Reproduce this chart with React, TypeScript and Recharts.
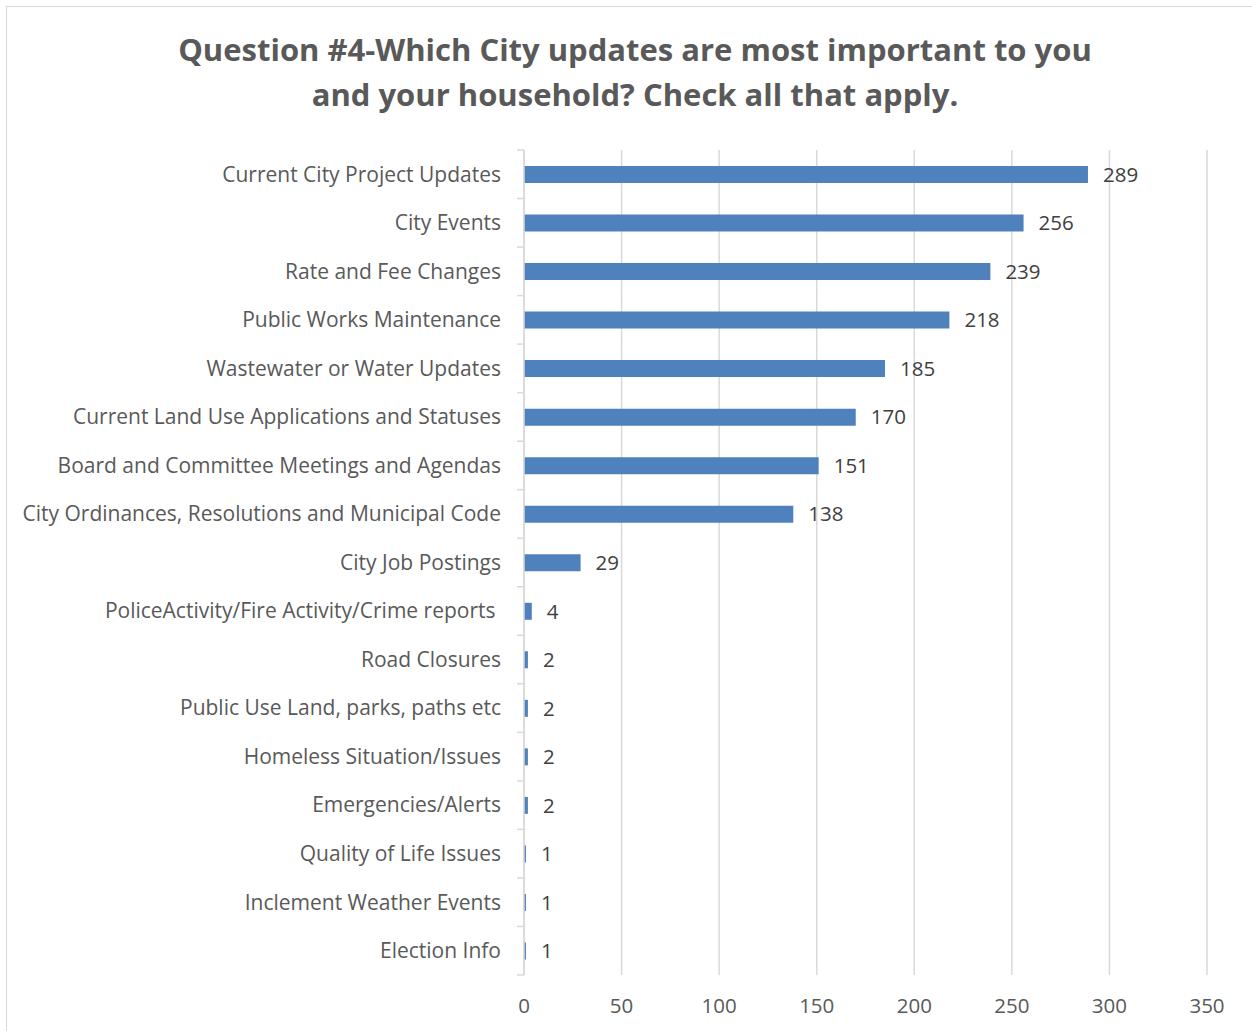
import { BarChart, Bar, XAxis, YAxis, CartesianGrid, LabelList } from 'recharts'

const categories = [
  'Current City Project Updates',
  'City Events',
  'Rate and Fee Changes',
  'Public Works Maintenance',
  'Wastewater or Water Updates',
  'Current Land Use Applications and Statuses',
  'Board and Committee Meetings and Agendas',
  'City Ordinances, Resolutions and Municipal Code',
  'City Job Postings',
  'PoliceActivity/Fire Activity/Crime reports\u00A0',
  'Road Closures',
  'Public Use Land, parks, paths etc',
  'Homeless Situation/Issues',
  'Emergencies/Alerts',
  'Quality of Life Issues',
  'Inclement Weather Events',
  'Election Info',
]

const responses = [289, 256, 239, 218, 185, 170, 151, 138, 29, 4, 2, 2, 2, 2, 1, 1, 1]

const xTicks = [0, 50, 100, 150, 200, 250, 300, 350]

const title1 = 'Question #4-Which City updates are most important to you'
const title2 = 'and your household? Check all that apply.'

const data = categories.map((name, i) => ({ name, value: responses[i] }))

const FONT = '"Open Sans", "Noto Sans", sans-serif'

const W = 1252
const H = 1031
const TOP = 150
const XAXIS_H = 56
const HALF_BAND = (H - TOP - XAXIS_H) / categories.length / 2

// category tick: label at band centre, tick mark on the band boundary like Excel
const CategoryTick = ({ x, y, payload, index }: any) => {
  return (
    <g>
      <line x1={x - 5} x2={x + 2} y1={y - HALF_BAND} y2={y - HALF_BAND} stroke="#d9d9d9" strokeWidth={1.5} />
      {index === categories.length - 1 && (
        <line x1={x - 5} x2={x + 2} y1={y + HALF_BAND} y2={y + HALF_BAND} stroke="#d9d9d9" strokeWidth={1.5} />
      )}
      <text x={x - 21} y={y} dy="0.35em" textAnchor="end" fontSize={21} fill="#595959" fontFamily={FONT}>
        {payload.value}
      </text>
    </g>
  )
}

export default function App() {
  return (
    <div style={{ position: 'absolute', left: 0, top: 0, width: W, height: H, background: '#fff', overflow: 'hidden', fontFamily: FONT }}>
      <div
        style={{
          position: 'absolute',
          left: 6,
          top: 6,
          width: 1300,
          height: 1100,
          border: '1.5px solid #d9d9d9',
          boxSizing: 'border-box',
        }}
      />
      <div
        style={{
          position: 'absolute',
          left: 0,
          top: 27,
          width: 1270,
          textAlign: 'center',
          fontSize: 31,
          fontWeight: 700,
          color: '#595959',
          lineHeight: '45px',
        }}
      >
        <div>{title1}</div>
        <div>{title2}</div>
      </div>
      <div style={{ position: 'absolute', left: 0, top: 0 }}>
        <BarChart
          width={W}
          height={H}
          data={data}
          layout="vertical"
          margin={{ top: TOP, right: 45, left: 0, bottom: 0 }}
          barCategoryGap={0}
        >
          <CartesianGrid horizontal={false} stroke="#d9d9d9" strokeWidth={1.5} />
          <XAxis
            type="number"
            domain={[0, 350]}
            ticks={xTicks}
            axisLine={false}
            tickLine={false}
            height={XAXIS_H}
            tickMargin={17}
            tick={{ fontSize: 20.5, fill: '#595959', fontFamily: FONT }}
          />
          <YAxis
            type="category"
            dataKey="name"
            width={524}
            axisLine={{ stroke: '#d9d9d9', strokeWidth: 1.5 }}
            tickLine={false}
            tickSize={0}
            interval={0}
            tick={<CategoryTick />}
          />
          <Bar dataKey="value" fill="#4f81bd" barSize={17} isAnimationActive={false}>
            <LabelList
              dataKey="value"
              position="right"
              offset={15}
              style={{ fontSize: 20.5, fill: '#404040', fontFamily: FONT }}
            />
          </Bar>
        </BarChart>
      </div>
    </div>
  )
}
